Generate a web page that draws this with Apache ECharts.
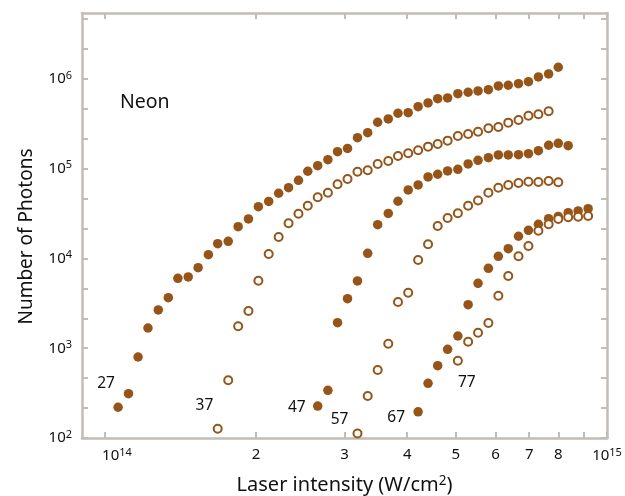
<!DOCTYPE html>
<html><head><meta charset="utf-8">
<script src="https://cdn.jsdelivr.net/npm/echarts@6/dist/echarts.min.js"></script>
<style>html,body{margin:0;padding:0;background:#fff}#c{width:625px;height:496px}</style>
</head><body><div id="c"></div>
<script>
// Laser intensity grid, in units of 1e14 W/cm^2 (shared by all series)
const intensity = [1.062, 1.114, 1.164, 1.218, 1.277, 1.337, 1.397, 1.465, 1.533, 1.607,
  1.677, 1.760, 1.842, 1.931, 2.021, 2.119, 2.218, 2.321, 2.429, 2.535,
  2.653, 2.780, 2.906, 3.042, 3.184, 3.337, 3.493, 3.667, 3.834, 4.018,
  4.205, 4.401, 4.600, 4.814, 5.046, 5.289, 5.535, 5.804, 6.075, 6.358,
  6.664, 6.975, 7.300, 7.651, 7.997, 8.370, 8.760, 9.171];

// Number of photons per harmonic order (each starts at the given grid index)
const photons27 = [220, 312, 799, 1681, 2669, 3658, 6019, 6221, 7898, 11030,
  14620, 15540, 22610, 27550, 37780, 43170, 53290, 61500, 74340, 93680,
  108100, 126200, 154900, 168100, 221800, 252200, 329400, 358500, 414800, 421200,
  491300, 540200, 603300, 614200, 685800, 710900, 735000, 760000, 835600, 850700,
  886300, 933000, 1052700, 1137000, 1350000];
const photons37 = [127, 439, 1756, 2600, 5656, 11220, 17360, 24680, 31570, 38760,
  48070, 54100, 67070, 76860, 92480, 96100, 113000, 122000, 138700, 148600,
  160600, 176100, 188700, 205400, 231600, 243800, 258700, 282300, 291900, 326000,
  349300, 389900, 404400, 436700];
const photons47 = [227, 340, 1926, 3566, 5614, 11430, 23800, 31720, 43390, 57980,
  65900, 80910, 86770, 94400, 98600, 113000, 124200, 132800, 142300, 142300,
  143400, 147100, 158900, 182500, 192100, 180600];
const photons57 = [112, 294, 572, 1124, 3276, 4159, 9623, 14390, 23020, 28270,
  31970, 38760, 44290, 54100, 61500, 65900, 69370, 71730, 71180, 73030, 70630];
const photons67 = [196, 407, 639, 973, 1369, 3057, 5292, 7777, 10580, 12860,
  17680, 20620, 24050, 27760, 29380, 32380, 33830, 35880];
const photons77 = [727, 1183, 1490, 1911, 3850, 6383, 10580, 13780, 20400, 24050,
  27550, 28780, 29230, 29760];
const firstIndex = [0, 10, 20, 24, 30, 34];
const harmonicNames = ['27', '37', '47', '57', '67', '77'];
const filledMarker = [true, false, true, false, true, false];

// Harmonic order annotations (label anchor in data units)
const annoIntensity = [1.005, 1.578, 2.411, 2.933, 3.803, 5.258];
const annoPhotons = [400, 227, 221, 159, 167, 410];

// Axis ticks and labels (x in units of 1e14 W/cm^2)
const xTickValues = [1, 2, 3, 4, 5, 6, 7, 8, 9, 9.9999];
const xLabelValues = [1, 2, 3, 4, 5, 6, 7, 8, 9.9999];
const xLabelTexts = ['{p|}10{s|14}', '2', '3', '4', '5', '6', '7', '8', '10{s|15}'];
const yTickValues = [100.001, 215.4, 464.2, 1000, 2154, 4642, 10000, 21540, 46420,
  100000, 215400, 464200, 1000000, 2154000, 4642000];
const yLabelValues = [100.001, 1000, 10000, 100000, 1000000];
const yLabelTexts = ['10{s|2}', '10{s|3}', '10{s|4}', '10{s|5}', '10{s|6}'];

const FONT = '"Noto Sans", "Open Sans", sans-serif';
const BROWN = '#985416';
const AXISC = '#c4bcb7';
const TXT = '#111111';

const allPhotons = [photons27, photons37, photons47, photons57, photons67, photons77];
const rich = {
  s: { fontSize: 11, fontFamily: FONT, color: TXT, verticalAlign: 'top', padding: [0, 0, 7, 0] },
  p: { width: 24 }
};
function xLabel(v) { const i = xLabelValues.findIndex(u => Math.abs(u * 1e14 - v) < 1e11); return i >= 0 ? xLabelTexts[i] : ''; }
function yLabel(v) { const i = yLabelValues.findIndex(u => Math.abs(u - v) / u < 1e-3); return i >= 0 ? yLabelTexts[i] : ''; }

function axisCommon(extra) {
  return Object.assign({
    axisLine: { show: true, lineStyle: { color: AXISC, width: 2.5 } },
    splitLine: { show: false },
    minorTick: { show: false }
  }, extra);
}
const xBase = { type: 'log', logBase: 10, min: 0.9e14, max: 1e15 };
const yBase = { type: 'log', logBase: 10, min: 100, max: 5.43e6 };
const tickStyle = (vals) => ({ show: true, inside: true, length: 6, lineStyle: { color: AXISC, width: 2 }, customValues: vals });

const series = allPhotons.map((arr, k) => ({
  type: 'scatter',
  name: harmonicNames[k],
  data: arr.map((v, i) => [intensity[firstIndex[k] + i] * 1e14, v]),
  symbol: 'circle',
  symbolSize: filledMarker[k] ? 9.5 : 8,
  itemStyle: filledMarker[k] ? { color: BROWN, opacity: 1 } : { color: '#ffffff', borderColor: BROWN, borderWidth: 2, opacity: 1 },
  emphasis: { disabled: true },
  z: 2
}));
series.push({
  type: 'scatter',
  symbolSize: 1,
  silent: true,
  itemStyle: { opacity: 0 },
  data: annoIntensity.map((v, i) => ({ value: [v * 1e14, annoPhotons[i]], name: harmonicNames[i] })),
  label: { show: true, position: 'inside', formatter: p => p.name, fontSize: 15.5, fontFamily: FONT, color: TXT, opacity: 1 },
  emphasis: { disabled: true },
  z: 5
});

const chart = echarts.init(document.getElementById('c'), null, { renderer: 'canvas' });
chart.setOption({
  backgroundColor: '#ffffff',
  animation: false,
  grid: { left: 82, right: 18, top: 13, bottom: 58, containLabel: false, outerBoundsMode: 'none' },
  xAxis: [
    axisCommon(Object.assign({}, xBase, {
      position: 'bottom',
      name: '{n|Laser intensity (W/cm}{s|2}{n|)}',
      nameLocation: 'middle', nameGap: 36,
      nameTextStyle: { rich: { n: { fontSize: 20, fontFamily: FONT, color: TXT }, s: { fontSize: 13.5, fontFamily: FONT, color: TXT, verticalAlign: 'top', padding: [0, 0, 8, 0] } } },
      axisTick: tickStyle(xTickValues.map(v => v * 1e14)),
      axisLabel: { show: true, margin: 9, customValues: xLabelValues.map(v => v * 1e14), formatter: xLabel, fontSize: 15, fontFamily: FONT, color: TXT, rich: rich, hideOverlap: false, showMaxLabel: true, showMinLabel: true }
    })),
    axisCommon(Object.assign({}, xBase, {
      position: 'top',
      axisTick: tickStyle(xTickValues.map(v => v * 1e14)),
      axisLabel: { show: false }
    }))
  ],
  yAxis: [
    axisCommon(Object.assign({}, yBase, {
      position: 'left',
      name: 'Number of Photons',
      nameLocation: 'middle', nameGap: 46, nameRotate: 90,
      nameTextStyle: { fontSize: 19, fontFamily: FONT, color: TXT, padding: [0, 22, 0, 0] },
      axisTick: tickStyle(yTickValues),
      axisLabel: { show: true, margin: 10, customValues: yLabelValues, formatter: yLabel, fontSize: 15, fontFamily: FONT, color: TXT, rich: rich, showMinLabel: true }
    })),
    axisCommon(Object.assign({}, yBase, {
      position: 'right',
      axisTick: tickStyle(yTickValues),
      axisLabel: { show: false }
    }))
  ],
  graphic: [{
    type: 'text', left: 120, top: 92,
    style: { text: 'Neon', fontSize: 19.5, fontFamily: FONT, fill: TXT }
  }],
  series: series
});
</script>
</body></html>
